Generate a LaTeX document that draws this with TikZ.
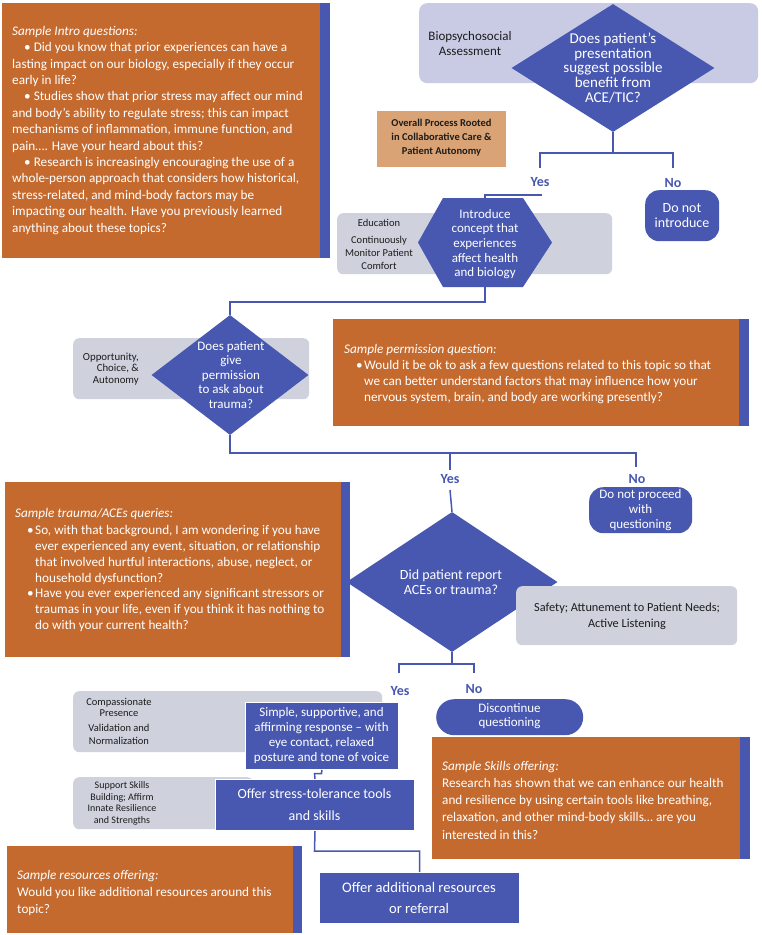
\documentclass[tikz,border=0pt]{standalone}
\usepackage{fontspec}
\setmainfont{Carlito}
\usetikzlibrary{shapes.geometric}
\definecolor{orng}{RGB}{197,106,46}
\definecolor{blu}{RGB}{72,88,176}
\definecolor{lav}{RGB}{201,203,228}
\definecolor{gry}{RGB}{207,210,221}
\definecolor{tanc}{RGB}{218,163,117}
\definecolor{ink}{RGB}{28,28,28}
\newcommand{\myfs}[2]{\fontsize{#1}{#2}\selectfont}
\newcommand{\bul}{\hspace*{12pt}\makebox[8pt][l]{•}}
\newcommand{\cont}{\hspace*{20pt}}
\begin{document}
\begin{tikzpicture}[x=1pt,y=-1pt,
 obox/.style={fill=orng, anchor=north west, inner sep=0, draw=none},
 strip/.style={fill=blu, anchor=north west, inner sep=0},
 otxt/.style={anchor=north west, inner sep=0, align=left, text=white},
 gbox/.style={fill=gry, rounded corners=6pt, anchor=north west, inner sep=0},
 bbox/.style={fill=blu, draw=white, line width=1pt, anchor=north west, inner sep=0},
 dia/.style={diamond, fill=blu, inner sep=0},
 wtxt/.style={text=white, align=center, inner sep=0},
 ktxt/.style={text=ink, align=center, inner sep=0},
 yn/.style={text=blu, font=\bfseries\myfs{14}{16}, inner sep=1pt},
 conn/.style={draw=blu, line width=1.5pt},
]
\useasboundingbox (0,0) rectangle (761,935);
\fill[white] (0,0) rectangle (761,935);

% ---------- Intro box ----------
\node[obox, minimum width=318pt, minimum height=255pt] (intro) at (2,3) {};
\node[strip, minimum width=10pt, minimum height=255pt] (introS) at (320,3) {};
\node[otxt, font=\myfs{13.2}{16.4}] (introT) at (12,26) {\textit{Sample Intro questions:}\\
\hspace*{12pt}• Did you know that prior experiences can have a\\
lasting impact on our biology, especially if they occur\\
early in life?\\
\hspace*{12pt}• Studies show that prior stress may affect our mind\\
and body’s ability to regulate stress; this can impact\\
mechanisms of inflammation, immune function, and\\
pain…. Have your heard about this?\\
\hspace*{12pt}• Research is increasingly encouraging the use of a\\
whole-person approach that considers how historical,\\
stress-related, and mind-body factors may be\\
impacting our health. Have you previously learned\\
anything about these topics?};

% ---------- Biopsychosocial ----------
\node[fill=lav, rounded corners=8pt, anchor=north west, inner sep=0, minimum width=339pt, minimum height=80pt] (bio) at (419,3) {};
\node[ktxt, font=\myfs{13}{15}] (bioT) at (470,43.5) {Biopsychosocial\\Assessment};
\node[dia, minimum width=203pt, minimum height=128pt] (d1) at (613,68) {};
\node[wtxt, font=\myfs{15}{14.7}] (d1T) at (613,68) {Does patient's\\presentation\\suggest possible\\benefit from\\ACE/TIC?};

% ---------- Overall process ----------
\node[fill=tanc, anchor=north west, minimum width=129pt, minimum height=56pt, inner sep=0] (over) at (377,111) {};
\node[ktxt, font=\bfseries\myfs{10.5}{14}] (overT) at (441.5,137.5) {Overall Process Rooted\\in Collaborative Care \&\\Patient Autonomy};

% ---------- first branch ----------
\node[yn] (yes1) at (540,182) {Yes};
\node[yn] (no1) at (673,183) {No};
\coordinate (j1) at (613,153);
\draw[conn] (d1.south) -- (j1) -| (540,168);
\draw[conn] (j1) -| (673,168);

% ---------- Education / hexagon ----------
\node[gbox, minimum width=275pt, minimum height=61pt] (edu) at (337,213) {};
\node[ktxt, font=\myfs{10.5}{13}] (eduA) at (379,223) {Education};
\node[ktxt, font=\myfs{10.5}{13}] (eduB) at (379,253) {Continuously\\Monitor Patient\\Comfort};
\fill[blu] (418,242.5) -- (443,198) -- (523,198) -- (552,242.5) -- (523,287) -- (443,287) -- cycle;
\node[wtxt, minimum width=134pt, minimum height=89pt, font=\myfs{13}{14.7}] (hex) at (485,244) {Introduce\\concept that\\experiences\\affect health\\and biology};
\draw[conn] (542,195) -- (485,195) -- (485,198);

\node[fill=blu, rounded corners=14pt, anchor=north west, minimum width=74pt, minimum height=51pt, inner sep=0] (dni) at (645,190) {};
\node[wtxt, font=\myfs{14}{15}] (dniT) at (682,215.5) {Do not\\introduce};

% ---------- permission diamond ----------
\node[gbox, minimum width=236pt, minimum height=61pt] (opp) at (73,338) {};
\node[ktxt, align=right, anchor=east, font=\myfs{10.8}{11.7}] (oppT) at (139,369) {Opportunity,\\Choice, \&\\Autonomy};
\node[dia, minimum width=157pt, minimum height=120pt] (d2) at (230,375) {};
\node[wtxt, font=\myfs{13}{14.5}] (d2T) at (231,375) {Does patient\\give\\permission\\to ask about\\trauma?};
\draw[conn] (485,287) -- (485,302) -| (d2.north);

\node[obox, minimum width=406pt, minimum height=107pt] (perm) at (333,319) {};
\node[strip, minimum width=10pt, minimum height=107pt] (permS) at (739,319) {};
\node[otxt, font=\myfs{13.2}{16}] (permT) at (344,344) {\textit{Sample permission question:}\\
\bul Would it be ok to ask a few questions related to this topic so that\\
\cont we can better understand factors that may influence how your\\
\cont nervous system, brain, and body are working presently?};

% ---------- second branch ----------
\node[yn] (yes2) at (450,479) {Yes};
\node[yn] (no2) at (637,479) {No};
\coordinate (j2) at (450,453);
\draw[conn] (d2.south) -- (230,453) -- (636,453) -- (636,467);
\draw[conn] (j2) -- (450,470);

\node[fill=blu, rounded corners=14pt, anchor=north west, minimum width=103pt, minimum height=46pt, inner sep=0] (dnp) at (589,487) {};
\node[wtxt, font=\myfs{13}{15}] (dnpT) at (640.5,510.5) {Do not proceed\\with\\questioning};

% ---------- trauma box ----------
\node[obox, minimum width=336pt, minimum height=175pt] (trauma) at (5,482) {};
\node[strip, minimum width=9pt, minimum height=175pt] (traumaS) at (341,482) {};
\node[otxt, font=\myfs{13.2}{15.8}] (traumaT) at (15,508) {\textit{Sample trauma/ACEs queries:}\\[1.5pt]
\bul So, with that background, I am wondering if you have\\
\cont ever experienced any event, situation, or relationship\\
\cont that involved hurtful interactions, abuse, neglect, or\\
\cont household dysfunction?\\
\bul Have you ever experienced any significant stressors or\\
\cont traumas in your life, even if you think it has nothing to\\
\cont do with your current health?};

\node[dia, minimum width=211pt, minimum height=140pt] (d3) at (452,582) {};
\node[wtxt, font=\myfs{14}{14.5}] (d3T) at (451,582) {Did patient report\\ACEs or trauma?};
\draw[conn] (450,490) -- (d3.north);

\node[gbox, minimum width=221pt, minimum height=59pt] (safe) at (516,586) {};
\node[ktxt, font=\myfs{12.3}{16}] (safeT) at (627,616) {Safety; Attunement to Patient Needs;\\Active Listening};

% ---------- third branch ----------
\coordinate (j3) at (452,664);
\draw[conn] (d3.south) -- (j3);
\draw[conn] (399,673) -- (399,664) -- (474,664) -- (474,673);
\node[yn] (yes3) at (400,691) {Yes};
\node[yn] (no3) at (474,689) {No};

\node[fill=blu, rounded corners=18pt, anchor=north west, minimum width=147pt, minimum height=36pt, inner sep=0] (disc) at (436,699) {};
\node[wtxt, font=\myfs{13}{14}] (discT) at (509.5,716.5) {Discontinue\\questioning};

% ---------- compassionate / simple ----------
\node[gbox, minimum width=309pt, minimum height=61pt] (comp) at (73,691) {};
\node[ktxt, font=\myfs{10.5}{11.5}] (compA) at (119,707.5) {Compassionate\\Presence};
\node[ktxt, font=\myfs{10.5}{13}] (compB) at (119,734.5) {Validation and\\Normalization};
\node[bbox, minimum width=153pt, minimum height=67pt] (simple) at (245,702) {};
\node[wtxt, font=\myfs{13}{15}] (simpleT) at (321.5,736) {Simple, supportive, and\\affirming response – with\\eye contact, relaxed\\posture and tone of voice};

\node[gbox, minimum width=180pt, minimum height=52pt] (supp) at (73,777) {};
\node[ktxt, font=\myfs{10}{11.7}] (suppT) at (122,803.5) {Support Skills\\Building; Affirm\\Innate Resilience\\and Strengths};
\node[bbox, minimum width=199pt, minimum height=51pt] (stress) at (215,779) {};
\node[wtxt, font=\myfs{14}{22}] (stressT) at (314.5,804.5) {Offer stress-tolerance tools\\and skills};
\draw[conn] (simple.south) -- (321.5,773.5) -- (314.5,773.5) -- (stress.north);

\node[bbox, minimum width=200pt, minimum height=51pt] (addl) at (319,872) {};
\node[wtxt, font=\myfs{14.6}{21}] (addlT) at (419,897.5) {Offer additional resources\\or referral};
\draw[conn] (stress.south) -- (314.5,851) -| (addl.north);

% ---------- resources box ----------
\node[obox, minimum width=286pt, minimum height=87pt] (res) at (7,846) {};
\node[strip, minimum width=9pt, minimum height=87pt] (resS) at (293,846) {};
\node[otxt, font=\myfs{13.2}{17}] (resT) at (17,870) {\textit{Sample resources offering:}\\
Would you like additional resources around this\\
topic?};

% ---------- skills box ----------
\node[obox, minimum width=308pt, minimum height=122pt] (skills) at (432,737) {};
\node[strip, minimum width=10pt, minimum height=122pt] (skillsS) at (740,737) {};
\node[otxt, font=\myfs{13.2}{17.2}] (skillsT) at (442,761) {\textit{Sample Skills offering:}\\
Research has shown that we can enhance our health\\
and resilience by using certain tools like breathing,\\
relaxation, and other mind-body skills… are you\\
interested in this?};
\end{tikzpicture}
\end{document}
